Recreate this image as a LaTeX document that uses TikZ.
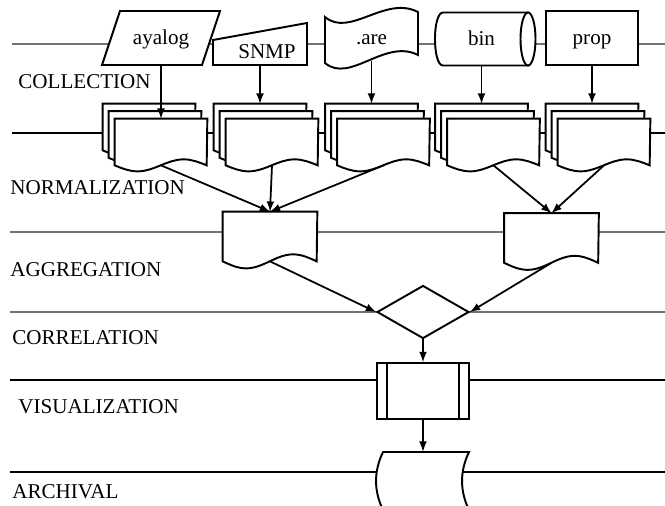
\documentclass[tikz,border=0pt]{standalone}
\usepackage{fontspec}
\setmainfont{Liberation Serif}
\usepackage{tikz}
\usetikzlibrary{
  calc,%
  shapes.geometric,%
  backgrounds,
  arrows
}
\tikzset{>=latex}
\tikzset{
  lane/.style={line width=0.9pt},
  greylane/.style={line width=1.1pt, black!55},
  shp/.style={draw=black, fill=white, line width=1.1pt},
  hold/.style={inner sep=0pt, text height=1em, text depth=0.25em,
    font=\fontsize{12}{14}\selectfont},
  sheet/.style={hold, minimum width=1.84cm, minimum height=0.92cm},
  paper/.style={hold, minimum width=1.88cm, minimum height=0.98cm},
  flow/.style={->, line width=1pt},
  stagename/.style={anchor=west, inner sep=0pt, font=\fontsize{12}{14}\selectfont}
}
% document outline: node, quarter width, wave height
\newcommand{\docoutline}[3]{%
  \draw[shp] (#1.north west) -- (#1.south west)
    sin ++(#2,#3) cos ++(#2,-#3) sin ++(#2,-#3) cos ++(#2,#3)
    -- (#1.north east) -- cycle;}

\begin{document}
\begin{tikzpicture}[x=0.02cm, y=-0.02cm]
  \useasboundingbox (0,0) rectangle (665,505);
  \node[stagename] (lcoll) at (18,82) {COLLECTION};
  \node[stagename] (lnorm) at (10,188) {NORMALIZATION};
  \node[stagename] (laggr) at (10,270) {AGGREGATION};
  \node[stagename] (lcorr) at (12,338) {CORRELATION};
  \node[stagename] (lvis) at (18,407) {VISUALIZATION};
  \node[stagename] (larch) at (12,492) {ARCHIVAL};

  \node[hold, minimum width=2.36cm, minimum height=1.08cm] (ayalog) at (161,38) {ayalog};
  \node[hold, minimum width=1.88cm, minimum height=0.84cm,
    label={[name=snmptext, hold, shift={(0.14cm,-0.16cm)}]center:SNMP}] (snmp) at (260,44) {};
  \node[hold, minimum width=1.86cm, minimum height=0.92cm] (are) at (371.5,38) {.are};
  \node[hold, minimum width=1.86cm, minimum height=1.06cm] (bin) at (481.5,39) {bin};
  \node[hold, minimum width=1.72cm, minimum height=1.16cm] (arch) at (426,481) {};

  \begin{scope}[on background layer]
    \draw[greylane] (12,44) -- (665,44);
    \draw[lane] (12,133) -- (665,133);
    \draw[greylane] (10,232) -- (665,232);
    \draw[greylane] (10,312) -- (665,312);
    \draw[lane] (10,380) -- (665,380);
    \draw[lane] (10,472) -- (665,472);
    \draw[shp, shift={(ayalog.center)}] (-41,-27) -- (59,-27) -- (41,27) -- (-59,27) -- cycle;
    \draw[shp, shift={(snmp.center)}] (-47,-4) -- (47,-21) -- (47,21) -- (-47,21) -- cycle;
    \draw[shp, shift={(are.center)}] (-46.5,-21) .. controls (-21.5,0) and (13.5,-43) .. (46.5,-26)
      -- (46.5,17) .. controls (13.5,0) and (-21.5,46) .. (-46.5,25) -- cycle;
    \draw[shp, shift={(bin.center)}] (46.5,-26.5) -- (-38.5,-26.5)
      .. controls (-49.2,-26.5) and (-49.2,26.5) .. (-38.5,26.5) -- (46.5,26.5) -- cycle;
    \draw[shp, shift={(bin.center)}] (46.5,0) ellipse [x radius=7.5, y radius=26.5];
    \draw[shp, shift={(arch.center)}] (-43,-29) -- (43,-29)
      .. controls (33.7,-9.7) and (33.7,9.7) .. (43,29) -- (-43,29)
      .. controls (-52.3,9.7) and (-52.3,-9.7) .. (-43,-29) -- cycle;
  \end{scope}
  \node[shp, hold, minimum width=1.84cm, minimum height=1.08cm] (prop) at (592,38) {prop};

  \foreach \nm/\x in {norm1/161, norm2/272, norm3/383.5, norm4/493.5, norm5/604}{
    \node[sheet] (\nm a) at (\x-12,127) {};
    \node[sheet] (\nm b) at (\x-6,134.5) {};
    \node[sheet] (\nm) at (\x,142) {};
    \docoutline{\nm a}{23}{6}
    \docoutline{\nm b}{23}{6}
    \docoutline{\nm}{23}{6}
  }

  \node[paper] (aggr1) at (270,236.5) {};
  \node[paper] (aggr2) at (551.5,238) {};
  \docoutline{aggr1}{23.5}{7}
  \docoutline{aggr2}{23.5}{7}

  \node[shp, diamond, minimum width=1.84cm, minimum height=1.06cm, inner sep=0pt] (corr) at (423,312) {};
  \node[shp, minimum width=1.84cm, minimum height=1.12cm, inner sep=0pt] (vis) at (423,391) {};
  \draw[line width=1.1pt] ($(vis.north west)+(11,0)$) -- ($(vis.south west)+(11,0)$);
  \draw[line width=1.1pt] ($(vis.north east)+(-11,0)$) -- ($(vis.south east)+(-11,0)$);

  \draw[flow] (ayalog.south) -- (norm1.north);
  \draw[flow] (snmp.south) -- (norm2a.north);
  \draw[flow] (are.south) -- (norm3a.north);
  \draw[flow] (bin.south) -- (norm4a.north);
  \draw[flow] (prop.south) -- (norm5a.north);
  \draw[flow] (norm1.south) -- (aggr1.north);
  \draw[flow] (norm2.south) -- (aggr1.north);
  \draw[flow] (norm3.south) -- (aggr1.north);
  \draw[flow] (norm4.south) -- (aggr2.north);
  \draw[flow] (norm5.south) -- (aggr2.north);
  \draw[flow] (aggr1.south) -- (corr.west);
  \draw[flow] (aggr2.south) -- (corr.east);
  \draw[flow] (corr.south) -- (vis.north);
  \draw[flow] (vis.south) -- (vis.south |- arch.north);
\end{tikzpicture}
\end{document}
